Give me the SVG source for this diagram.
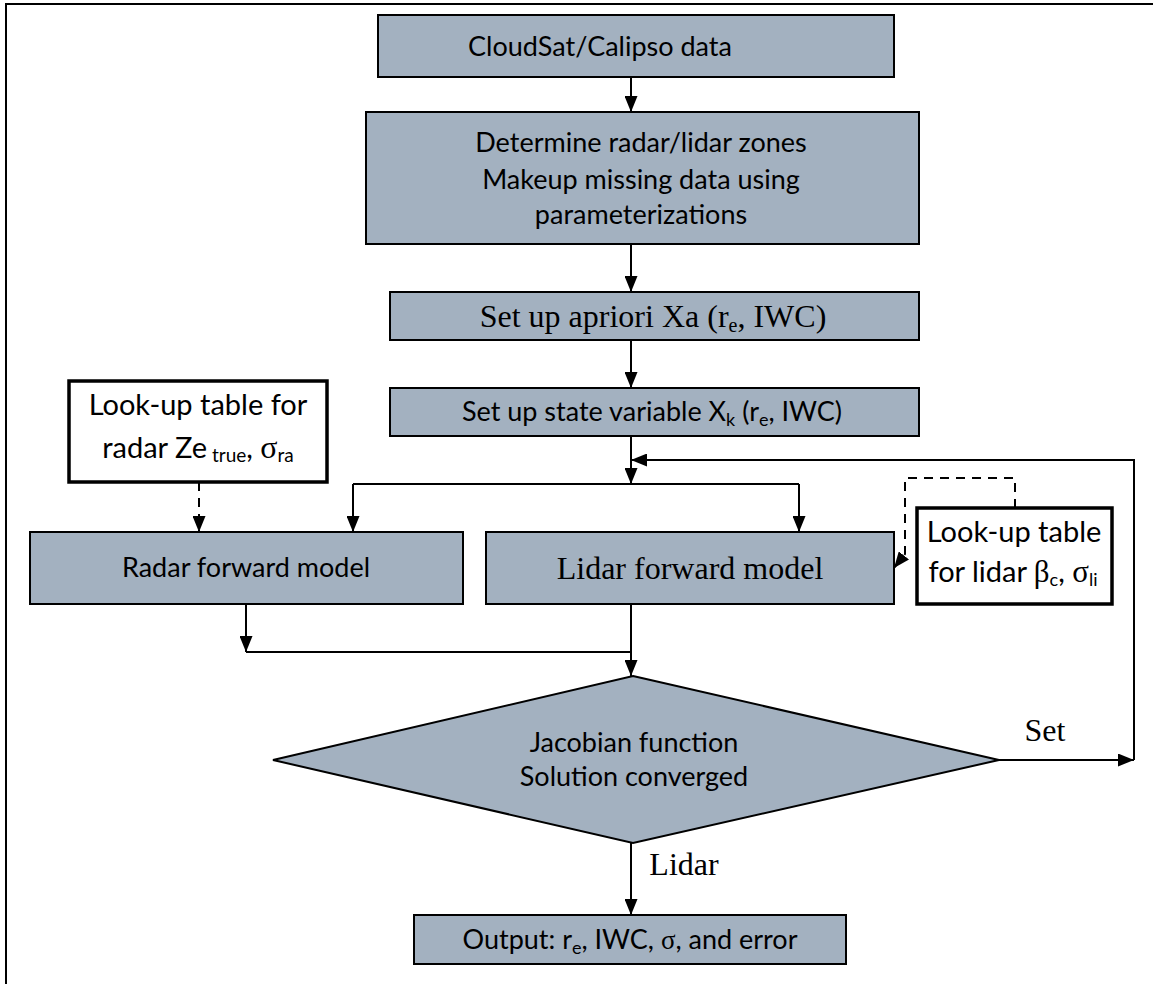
<svg xmlns="http://www.w3.org/2000/svg" width="1153" height="984" viewBox="0 0 1153 984">
<defs>
<style>
.box{fill:#a3b1c0;stroke:#000;stroke-width:2}
.lut{fill:#fff;stroke:#000;stroke-width:3.5}
.t{font-family:Lato,"Open Sans","Liberation Sans",sans-serif;font-size:27px;fill:#000;text-anchor:middle}
.L{font-size:29px}
.s{font-family:"Liberation Serif","Times New Roman",serif;font-size:32px;fill:#000;text-anchor:middle}
.ln{fill:none;stroke:#000;stroke-width:2}
.dash{fill:none;stroke:#000;stroke-width:2;stroke-dasharray:9 7}
</style>
<marker id="ah" viewBox="0 0 16 13" refX="16" refY="6.5" markerWidth="16" markerHeight="13" markerUnits="userSpaceOnUse" orient="auto">
<path d="M0,0 L16,6.5 L0,13 z" fill="#000"/>
</marker>
</defs>
<rect width="1153" height="984" fill="#fff"/>
<path d="M6,984 V4 H1153" fill="none" stroke="#000" stroke-width="2"/>

<g id="cloudsat">
<rect class="box" x="378" y="15" width="516" height="62"/>
<text class="t" x="600" y="56">CloudSat/Calipso data</text>
</g>
<g id="determine">
<rect class="box" x="366" y="112" width="553" height="132"/>
<text class="t" x="641" y="152">Determine radar/lidar zones</text>
<text class="t" x="641" y="189">Makeup missing data using</text>
<text class="t" x="641" y="224">parameterizations</text>
</g>
<g id="apriori">
<rect class="box" x="390" y="292" width="529" height="48"/>
<text class="s" x="653" y="327">Set up apriori Xa (r<tspan font-size="20" dy="5">e</tspan><tspan dy="-5">, IWC)</tspan></text>
</g>
<g id="statevar">
<rect class="box" x="390" y="388" width="529" height="48"/>
<text class="t" x="652" y="421">Set up state variable X<tspan font-size="18" dy="5">k</tspan><tspan dy="-5"> (r</tspan><tspan font-size="18" dy="5">e</tspan><tspan dy="-5">, IWC)</tspan></text>
</g>
<g id="radarlut">
<rect class="lut" x="69" y="381" width="258" height="101"/>
<text class="t L" x="198" y="415">Look-up table for</text>
<text class="t L" x="198" y="458">radar Ze<tspan font-size="19" dy="4"> true</tspan><tspan dy="-4">, </tspan><tspan font-family="Liberation Serif,serif" font-size="32">σ</tspan><tspan font-size="19" dy="4">ra</tspan></text>
</g>
<g id="radarfm">
<rect class="box" x="30" y="532" width="433" height="72"/>
<text class="t" x="246" y="577">Radar forward model</text>
</g>
<g id="lidarfm">
<rect class="box" x="486" y="532" width="408" height="72"/>
<text class="s" x="690" y="579">Lidar forward model</text>
</g>
<g id="lidarlut">
<rect class="lut" x="917" y="508" width="195" height="96"/>
<text class="t L" x="1014" y="542">Look-up table</text>
<text class="t L" x="1013" y="582">for lidar <tspan font-family="Liberation Serif,serif" font-size="31">β</tspan><tspan font-size="18" dy="4">c</tspan><tspan dy="-4">, </tspan><tspan font-family="Liberation Serif,serif" font-size="31">σ</tspan><tspan font-size="18" dy="4">li</tspan></text>
</g>
<g id="jacobian">
<path d="M633,676 L999,760 L633,843 L273,760 z" fill="#a3b1c0" stroke="#000" stroke-width="2"/>
<text class="t" x="634" y="752">Jacobian function</text>
<text class="t" x="634" y="786">Solution converged</text>
</g>
<g id="output">
<rect class="box" x="414" y="915" width="432" height="49"/>
<text class="t" x="630" y="949">Output: r<tspan font-size="18" dy="5">e</tspan><tspan dy="-5">, IWC, </tspan><tspan font-family="Liberation Serif,serif">σ</tspan>, and error</text>
</g>

<g id="connectors">
<path class="ln" d="M631,77 V112" marker-end="url(#ah)"/>
<path class="ln" d="M631,244 V292" marker-end="url(#ah)"/>
<path class="ln" d="M631,340 V388" marker-end="url(#ah)"/>
<path class="ln" d="M631,436 V484" marker-end="url(#ah)"/>
<path class="ln" d="M1134,760 V460 H631" marker-end="url(#ah)"/>
<path class="ln" d="M353,484 H799"/>
<path class="ln" d="M353,484 V532" marker-end="url(#ah)"/>
<path class="ln" d="M799,484 V532" marker-end="url(#ah)"/>
<path class="dash" d="M199,482 V532" marker-end="url(#ah)"/>
<path class="dash" d="M1015,508 V478 H905 V554 L894,568" marker-end="url(#ah)"/>
<path class="ln" d="M246,604 V652" marker-end="url(#ah)"/>
<path class="ln" d="M246,652 H631" stroke-width="1.5"/>
<path class="ln" d="M631,604 V676" marker-end="url(#ah)"/>
<path class="ln" d="M999,760 H1134" marker-end="url(#ah)"/>
<path class="ln" d="M631,843 V915" marker-end="url(#ah)"/>
<text class="s" x="1045" y="741">Set</text>
<text class="s" x="684" y="875">Lidar</text>
</g>
</svg>
